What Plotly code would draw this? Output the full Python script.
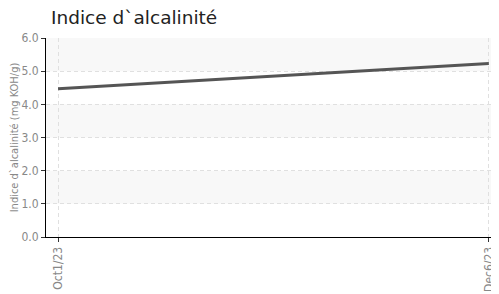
import plotly.graph_objects as go

dates = ["Oct1/23", "Dec6/23"]
values = [4.47, 5.23]
y_ticks = [0, 1, 2, 3, 4, 5, 6]
y_tick_labels = ["0.0", "1.0", "2.0", "3.0", "4.0", "5.0", "6.0"]
title = "Indice d`alcalinité"
y_title = "Indice d`alcalinité (mg KOH/g)"

cond = "DejaVu Sans Condensed, sans-serif"

# The page body has an 8px margin, so the figure is sized to the visible window minus it.
W, H, OFF = 499 - 8, 294 - 8, 8

fig = go.Figure()
fig.add_trace(go.Scatter(
    x=dates, y=values, mode="lines",
    line=dict(color="#555555", width=3),
    hoverinfo="skip",
))

shapes = []
for lo in [1, 3, 5]:
    shapes.append(dict(type="rect", xref="paper", yref="y", x0=0, x1=1, y0=lo, y1=lo + 1,
                       fillcolor="#f8f8f8", line=dict(width=0), layer="below"))

fig.update_layout(
    width=W, height=H,
    margin=dict(l=46 - OFF, r=2, t=38 - OFF, b=57, autoexpand=False),
    paper_bgcolor="white", plot_bgcolor="white",
    showlegend=False,
    shapes=shapes,
    title=dict(text=title, x=(51 - OFF) / W, xanchor="left", y=1 - (18 - OFF) / H, yanchor="middle",
               automargin=False,
               font=dict(family="DejaVu Sans, sans-serif", size=18.5, color="#222222")),
    xaxis=dict(
        type="category", range=[-0.028, 1.019], automargin=False,
        showline=True, linecolor="#000000", linewidth=1,
        ticks="outside", ticklen=4, tickcolor="#333333",
        tickangle=-90,
        tickfont=dict(family=cond, size=12, color="#888888"),
        showgrid=True, gridcolor="#e0e0e0", griddash="4px,3px", gridwidth=1,
        zeroline=False,
    ),
    yaxis=dict(
        range=[0, 6], tickvals=y_ticks, ticktext=y_tick_labels, automargin=False,
        showline=True, linecolor="#000000", linewidth=1,
        ticks="outside", ticklen=4, tickcolor="#333333",
        tickfont=dict(family=cond, size=12, color="#888888"),
        showgrid=True, gridcolor="#e0e0e0", griddash="4px,3px", gridwidth=1,
        zeroline=False,
        title=dict(text=y_title, font=dict(family=cond, size=11, color="#888888"), standoff=4),
    ),
)

fig.write_html("out.html")
